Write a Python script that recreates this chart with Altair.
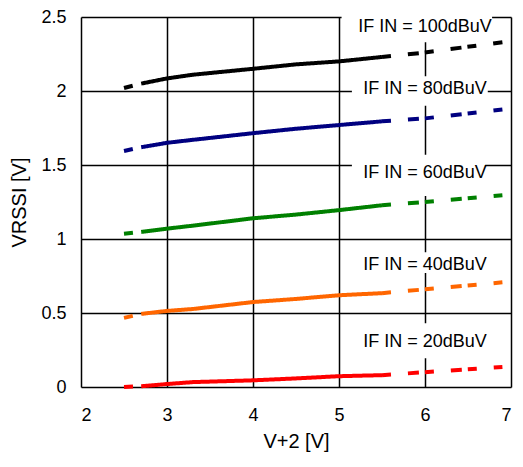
import altair as alt
import pandas as pd

# ---- data ----
x_vals = [2.5, 2.7, 3.0, 3.3, 4.0, 4.5, 5.0, 5.5, 6.0, 6.9]
series_names = ["IF IN = 100dBuV", "IF IN = 80dBuV", "IF IN = 60dBuV",
                "IF IN = 40dBuV", "IF IN = 20dBuV"]
v100 = [2.02, 2.05, 2.085, 2.11, 2.15, 2.18, 2.20, 2.23, 2.26, 2.33]
v80 = [1.595, 1.62, 1.65, 1.67, 1.715, 1.745, 1.77, 1.795, 1.815, 1.875]
v60 = [1.035, 1.048, 1.07, 1.09, 1.14, 1.165, 1.195, 1.228, 1.25, 1.295]
v40 = [0.467, 0.494, 0.514, 0.527, 0.574, 0.595, 0.62, 0.634, 0.66, 0.707]
v20 = [0.0, 0.005, 0.02, 0.033, 0.045, 0.058, 0.073, 0.08, 0.10, 0.135]
series_values = [v100, v80, v60, v40, v20]
colors = ["#000000", "#000080", "#008000", "#FF6600", "#FF0000"]

x_ticks = [2, 3, 4, 5, 6, 7]
y_ticks = [0, 0.5, 1, 1.5, 2, 2.5]

# annotation labels (text, x, y) and their white background boxes
label_x = [6.0, 6.0, 6.0, 6.0, 6.0]
label_y = [2.435, 2.015, 1.449, 0.826, 0.302]
box_x0 = [5.03, 5.15, 5.15, 5.15, 5.15]
box_x1 = [6.78, 6.73, 6.70, 6.72, 6.72]
box_y0 = [2.33, 1.90, 1.29, 0.77, 0.195]
box_y1 = [2.54, 2.10, 1.57, 0.91, 0.43]

# ---- build table ----
rows = []
for name, vals in zip(series_names, series_values):
    for xv, yv in zip(x_vals, vals):
        if xv <= 2.7:
            rows.append({"x": xv, "y": yv, "series": name, "seg": "left"})
        if 2.7 <= xv <= 5.5:
            rows.append({"x": xv, "y": yv, "series": name, "seg": "solid"})
        if xv >= 5.5:
            rows.append({"x": xv, "y": yv, "series": name, "seg": "right"})
df = pd.DataFrame(rows)

labels = pd.DataFrame({
    "text": series_names, "x": label_x, "y": label_y,
    "x0": box_x0, "x1": box_x1, "y0": box_y0, "y1": box_y1,
})

FONT = "Liberation Sans"

xscale = alt.Scale(domain=[2, 7], nice=False, zero=False)
yscale = alt.Scale(domain=[0, 2.5], nice=False, zero=False)

xaxis = alt.Axis(values=x_ticks, format="d", title="V+2 [V]", grid=True,
                 gridColor="#000000", gridWidth=1.5, gridOpacity=1,
                 ticks=False, tickSize=0, domain=False, labelFontSize=18,
                 labelFont=FONT, labelColor="#000000", labelPadding=19,
                 titleFont=FONT, titleFontSize=20, titleFontWeight="normal",
                 titleColor="#000000", titlePadding=7)
yaxis = alt.Axis(values=y_ticks, format="~g", title="VRSSI [V]", grid=True,
                 gridColor="#000000", gridWidth=1.5, gridOpacity=1,
                 ticks=False, tickSize=0, domain=False, labelFontSize=18,
                 labelFont=FONT, labelColor="#000000", labelPadding=15,
                 titleFont=FONT, titleFontSize=20, titleFontWeight="normal",
                 titleColor="#000000", titlePadding=11)

boxes = alt.Chart(labels).mark_rect(color="white", clip=False).encode(
    x=alt.X("x0:Q", scale=xscale, axis=xaxis),
    x2="x1:Q",
    y=alt.Y("y0:Q", scale=yscale, axis=yaxis),
    y2="y1:Q",
)

lines = alt.Chart(df).mark_line(strokeWidth=4).encode(
    x=alt.X("x:Q", scale=xscale),
    y=alt.Y("y:Q", scale=yscale),
    color=alt.Color("series:N", scale=alt.Scale(domain=series_names, range=colors), legend=None),
    strokeDash=alt.StrokeDash("seg:N", scale=alt.Scale(domain=["left", "solid", "right"],
                                                      range=[[9, 40], [1, 0], [9, 17, 11, 6]]),
                              legend=None),
    detail="seg:N",
    order="x:Q",
)

texts = alt.Chart(labels).mark_text(font=FONT, fontSize=18, color="#000000",
                                    baseline="middle", align="center").encode(
    x=alt.X("x:Q", scale=xscale),
    y=alt.Y("y:Q", scale=yscale),
    text="text:N",
)

chart = alt.layer(boxes, lines, texts).properties(
    width=430, height=370,
    autosize=alt.AutoSizeParams(type="none"),
    padding={"left": 73, "top": 9, "right": 3, "bottom": 69},
).configure_view(stroke=None)

chart.save("out.html", embed_options={"renderer": "svg", "actions": False})
